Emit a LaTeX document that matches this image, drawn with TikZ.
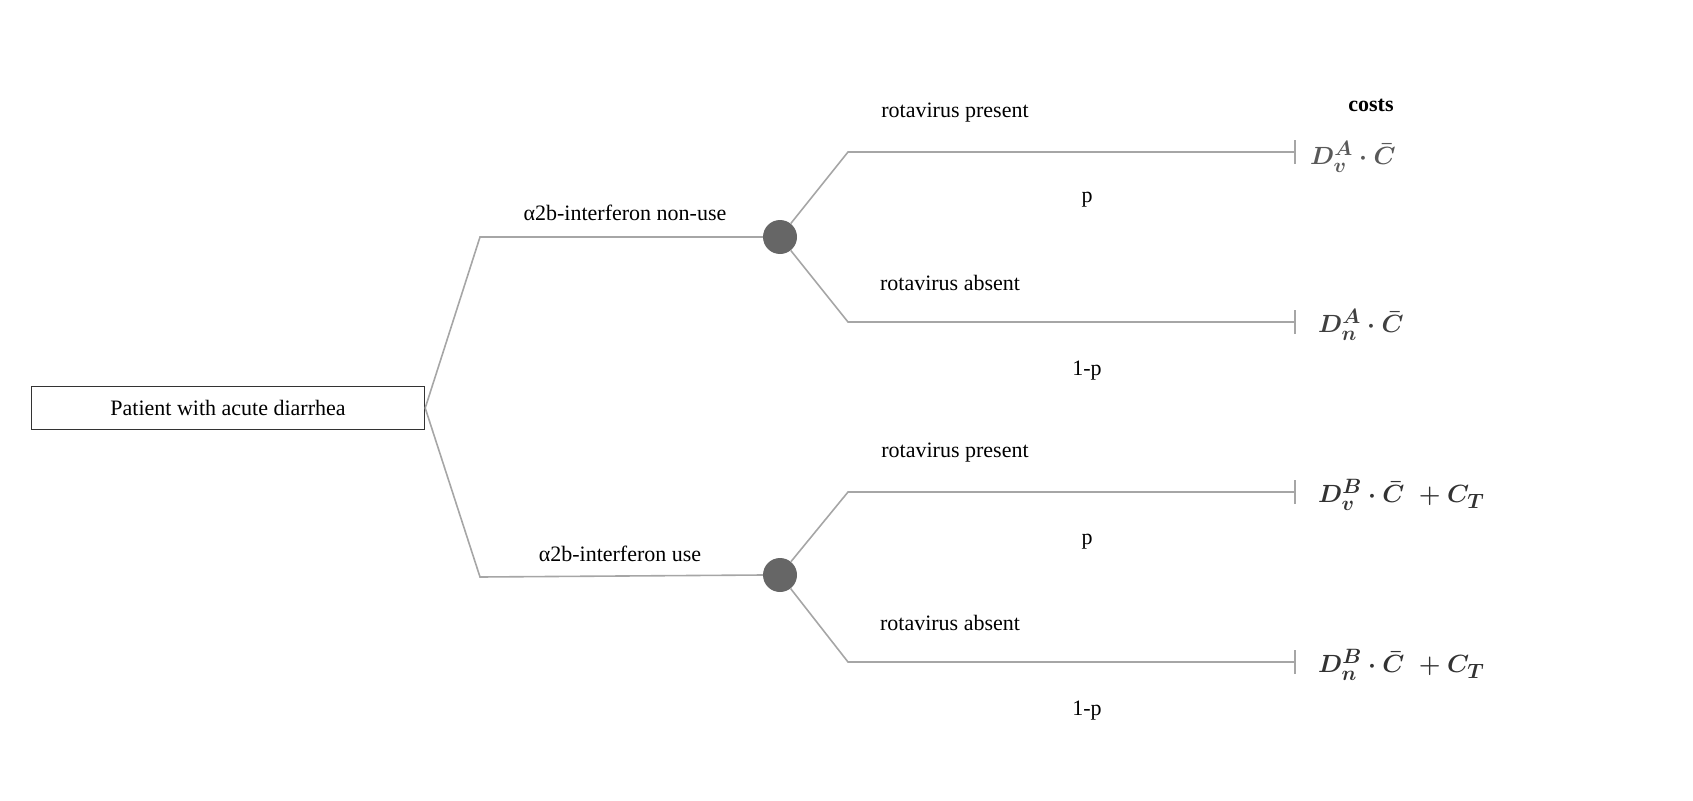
\documentclass[tikz,border=0pt]{standalone}
\usepackage{fontspec}
\setmainfont{Liberation Serif}
\begin{document}
\begin{tikzpicture}[x=1pt,y=-1pt,
  br/.style={draw=black!35,line width=1.6pt},
  chance/.style={circle,fill=black!60,minimum size=34pt,inner sep=0pt},
  lbl/.style={font=\fontsize{22}{24}\selectfont,inner sep=0pt},
  cost/.style={font=\fontsize{32}{34}\selectfont\boldmath,anchor=west,inner sep=0pt},
  endtick/.style={draw=black!35,line width=1.4pt}]
\useasboundingbox (0,0) rectangle (1693,800);
\node[draw=black!80,line width=1.4pt,minimum width=393pt,minimum height=43pt,inner sep=0pt,font=\fontsize{22}{24}\selectfont] (root) at (228,408) {Patient with acute diarrhea};
\node[chance] (c1) at (780,237) {};
\node[chance] (c2) at (780,575) {};
\coordinate (e1) at (1295,152);
\coordinate (e2) at (1295,322);
\coordinate (e3) at (1295,492);
\coordinate (e4) at (1295,662);
\draw[br] (root.east) -- (480,237) -- (c1.west);
\draw[br] (root.east) -- (480,577) -- (c2.west);
\draw[br] (c1) -- (848,152) -- (e1);
\draw[br] (c1) -- (848,322) -- (e2);
\draw[br] (c2) -- (848,492) -- (e3);
\draw[br] (c2) -- (848,662) -- (e4);
\foreach \e in {e1,e2,e3,e4} \draw[endtick] ([yshift=-12pt]\e) -- ([yshift=12pt]\e);
\node[lbl] (l1) at (625,213) {α2b-interferon non-use};
\node[lbl] (l2) at (620,554) {α2b-interferon use};
\node[lbl] (r1) at (955,113) {rotavirus present};
\node[lbl] (p1) at (1087,200) {p};
\node[lbl] (r2) at (950,283) {rotavirus absent};
\node[lbl] (q1) at (1087,371) {1-p};
\node[lbl] (r3) at (955,453) {rotavirus present};
\node[lbl] (p2) at (1087,542) {p};
\node[lbl] (r4) at (950,623) {rotavirus absent};
\node[lbl] (q2) at (1087,711) {1-p};
\node[lbl,font=\fontsize{22}{24}\selectfont\bfseries] (costs) at (1371,105) {costs};
\node[cost,text=black!65] (f1) at (1310,157) {$D_v^A\cdot\bar{C}$};
\node[cost,text=black!75] (f2) at (1318,325) {$D_n^A\cdot\bar{C}$};
\node[cost,text=black!80] (f3) at (1318,495) {$D_v^B\cdot\bar{C}\ +C_T$};
\node[cost,text=black!80] (f4) at (1318,665) {$D_n^B\cdot\bar{C}\ +C_T$};
\end{tikzpicture}
\end{document}
